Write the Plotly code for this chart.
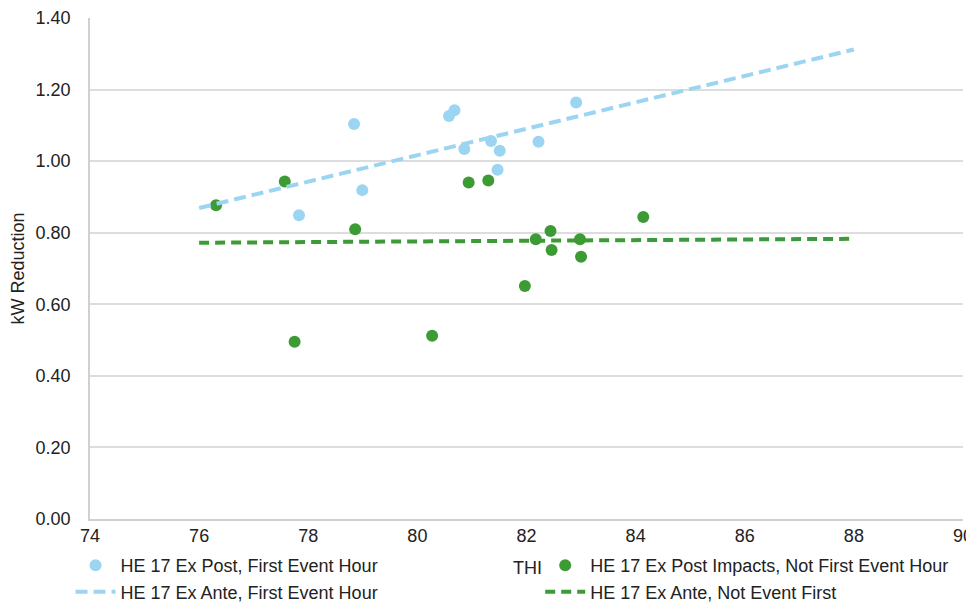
import plotly.graph_objects as go

# Ex post, first event hour (light blue points)
thi_first = [77.83, 78.99, 78.84, 80.58, 80.68, 80.86, 81.35, 81.51, 81.47, 82.22, 82.91]
kw_first = [0.849, 0.919, 1.104, 1.126, 1.142, 1.034, 1.056, 1.029, 0.976, 1.054, 1.164]

# Ex post impacts, not first event hour (green points)
thi_not = [76.31, 77.57, 80.94, 81.30, 78.86, 77.75, 80.27, 81.97, 82.17, 82.44, 82.46, 82.98, 83.00, 84.14]
kw_not = [0.877, 0.943, 0.940, 0.946, 0.810, 0.495, 0.512, 0.651, 0.782, 0.805, 0.752, 0.782, 0.733, 0.844]

# Ex ante lines
thi_ante = [76, 88]
kw_ante_first = [0.869, 1.312]
kw_ante_not = [0.772, 0.783]

x_ticks = [74, 76, 78, 80, 82, 84, 86, 88, 90]

BLUE = "#9CD5F1"
GREEN = "#3D9B35"
FONT = "Liberation Sans, Arial, sans-serif"
FS = 18

fig = go.Figure()
fig.add_trace(go.Scatter(x=thi_first, y=kw_first, mode="markers",
                         name="HE 17 Ex Post, First Event Hour", legend="legend",
                         marker=dict(color=BLUE, size=12)))
fig.add_trace(go.Scatter(x=thi_not, y=kw_not, mode="markers",
                         name="HE 17 Ex Post Impacts, Not First Event Hour", legend="legend2",
                         marker=dict(color=GREEN, size=12)))
fig.add_trace(go.Scatter(x=thi_ante, y=kw_ante_first, mode="lines",
                         name="HE 17 Ex Ante, First Event Hour", legend="legend",
                         line=dict(color=BLUE, width=4, dash="12px,6px")))
fig.add_trace(go.Scatter(x=thi_ante, y=kw_ante_not, mode="lines",
                         name="HE 17 Ex Ante, Not Event First", legend="legend2",
                         line=dict(color=GREEN, width=4, dash="10px,6px")))

leg_common = dict(orientation="v", yanchor="top", xanchor="left", y=-0.056,
                  font=dict(size=FS, color="#222222"), itemwidth=40,
                  tracegroupgap=0, bgcolor="rgba(0,0,0,0)", traceorder="normal")

fig.update_layout(
    width=966, height=598,
    margin=dict(l=82, r=11, t=10, b=87, autoexpand=False),
    paper_bgcolor="white", plot_bgcolor="white",
    font=dict(family=FONT, size=FS, color="#222222"),
    showlegend=True,
    legend=dict(x=-0.0223, **leg_common),
    legend2=dict(x=0.5157, **leg_common),
    xaxis=dict(range=[74, 90], tickvals=x_ticks, showgrid=False, zeroline=False,
               showline=True, linecolor="#D0D0D0", linewidth=1.5, ticks="",
               tickfont=dict(size=FS), automargin=False),
    yaxis=dict(range=[0, 1.4], dtick=0.2, tickformat=".2f", showgrid=True,
               gridcolor="#DDDDDD", gridwidth=1.5, zeroline=False,
               showline=True, linecolor="#D0D0D0", linewidth=1.5, ticks="",
               ticklabelstandoff=14, automargin=False,
               title=dict(text="kW Reduction", font=dict(size=FS), standoff=10),
               tickfont=dict(size=FS)),
    annotations=[dict(text="THI", xref="paper", yref="paper", x=0.5006, y=-0.098,
                      yanchor="middle", showarrow=False,
                      font=dict(size=FS, color="#222222"))],
)

fig.write_html("out.html")
